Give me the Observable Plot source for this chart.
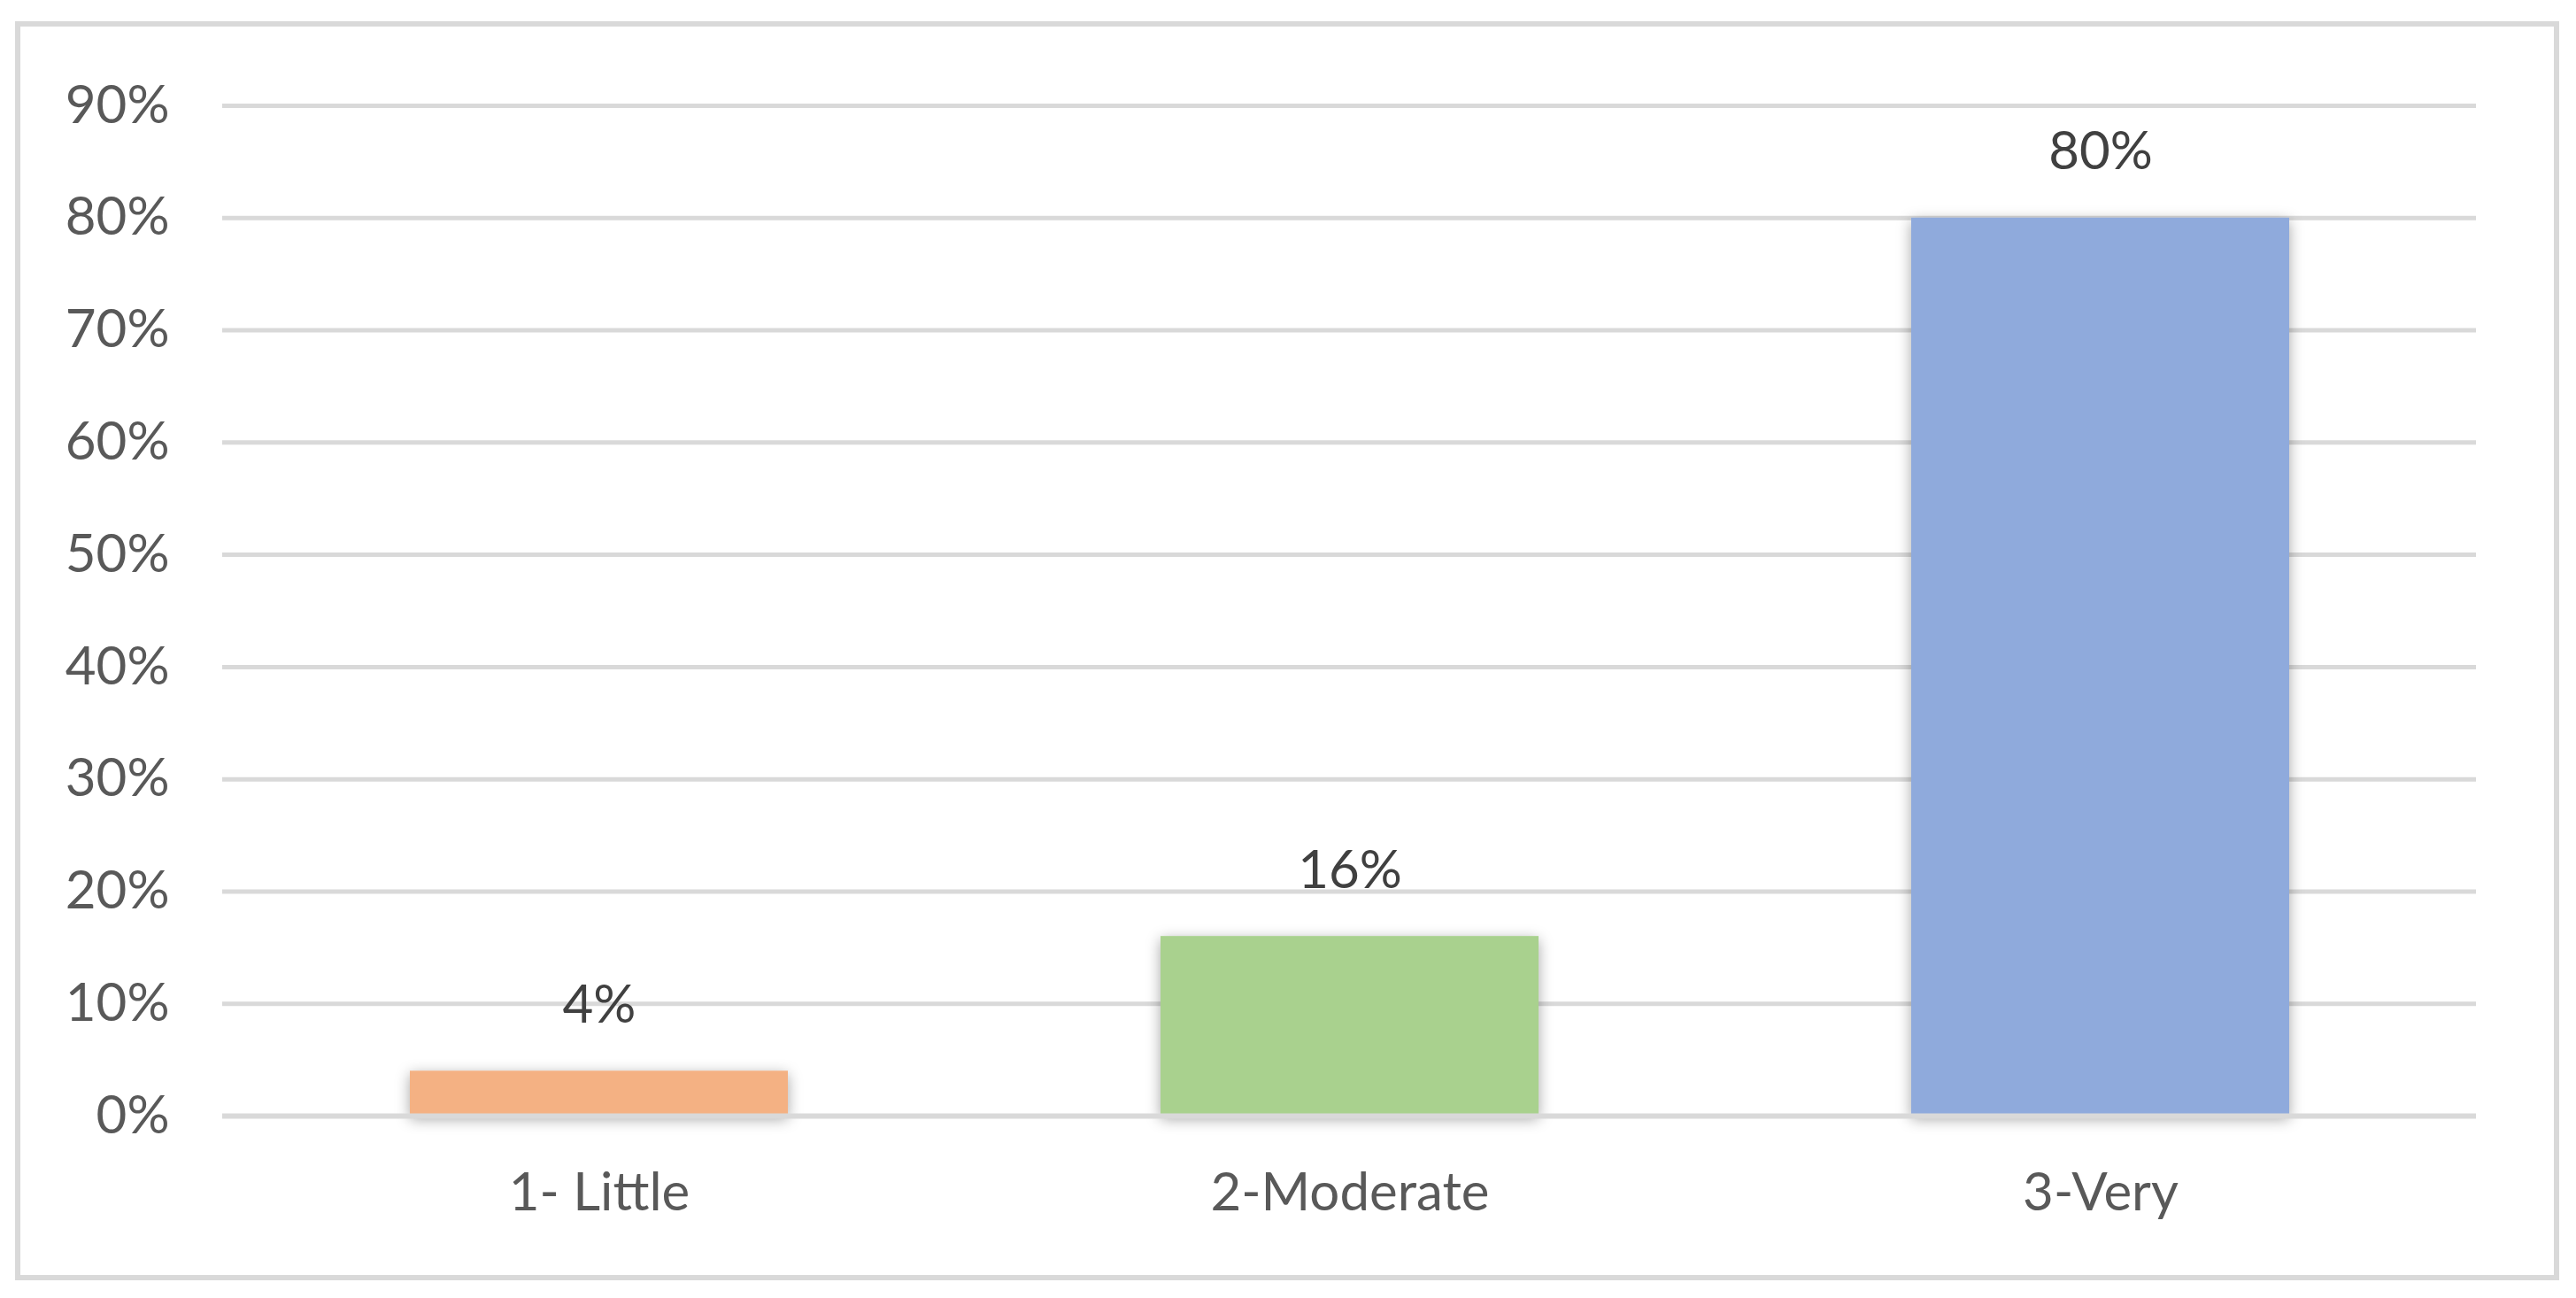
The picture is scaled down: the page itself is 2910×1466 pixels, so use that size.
<!DOCTYPE html>
<html>
<head>
<meta charset="utf-8">
<script src="https://cdn.jsdelivr.net/npm/d3@7"></script>
<script src="https://cdn.jsdelivr.net/npm/@observablehq/plot@0.6"></script>
<style>
  html, body { margin: 0; padding: 0; background: #fff; }
  #wrap { position: relative; width: 2910px; height: 1466px; }
  #border { position: absolute; left: 17px; top: 24px; width: 2862px; height: 1410px;
            border: 6px solid #d9d9d9; box-sizing: content-box; pointer-events: none; }
  #chart { position: absolute; left: 0; top: 0; }
</style>
</head>
<body>
<div id="wrap"><div id="chart"></div><div id="border"></div></div>
<script>
const categories = ["1- Little", "2-Moderate", "3-Very"];
const values = [0.04, 0.16, 0.80];
const barColors = ["#F4B183", "#A9D18E", "#8FAADC"];
const yTicks = [0, 0.1, 0.2, 0.3, 0.4, 0.5, 0.6, 0.7, 0.8, 0.9];

const data = categories.map((c, i) => ({category: c, value: values[i], color: barColors[i]}));
const font = "Lato, 'Open Sans', sans-serif";

const plot = Plot.plot({
  width: 2910,
  height: 1466,
  marginLeft: 251,
  marginRight: 113,
  marginTop: 119,
  marginBottom: 206,
  style: {fontFamily: font, fontSize: "60px", background: "transparent", color: "#595959"},
  x: {domain: categories, paddingInner: 0.497, paddingOuter: 0.2485, label: null},
  y: {domain: [0, 0.9], ticks: yTicks, tickFormat: d3.format(".0%"), label: null},
  marks: [
    Plot.ruleY(yTicks.filter(d => d > 0), {stroke: "#d9d9d9", strokeWidth: 5}),
    Plot.barY(data, {x: "category", y: "value", fill: "color"}),
    Plot.ruleY([0], {stroke: "#d9d9d9", strokeWidth: 6}),
    Plot.axisY({ticks: yTicks, tickFormat: d3.format(".0%"), tickSize: 0, tickPadding: 60,
                fontSize: 60, fill: "#595959", label: null}),
    Plot.axisX({tickSize: 0, tickPadding: 64, fontSize: 60, fill: "#595959", label: null}),
    Plot.text(data, {x: "category", y: "value", text: d => d3.format(".0%")(d.value),
                     dy: -74, fontSize: 60, fill: "#404040"})
  ]
});
document.getElementById("chart").appendChild(plot);

// soft drop shadow on bars, like the spreadsheet original
const svg = d3.select(plot);
const defs = svg.insert("defs", ":first-child");
const f = defs.append("filter").attr("id", "barShadow")
  .attr("x", "-20%").attr("y", "-20%").attr("width", "140%").attr("height", "140%");
f.append("feDropShadow").attr("dx", 0).attr("dy", 4).attr("stdDeviation", 8)
  .attr("flood-color", "#000").attr("flood-opacity", 0.35);
svg.selectAll("g[aria-label='bar']").attr("filter", "url(#barShadow)");
</script>
</body>
</html>
